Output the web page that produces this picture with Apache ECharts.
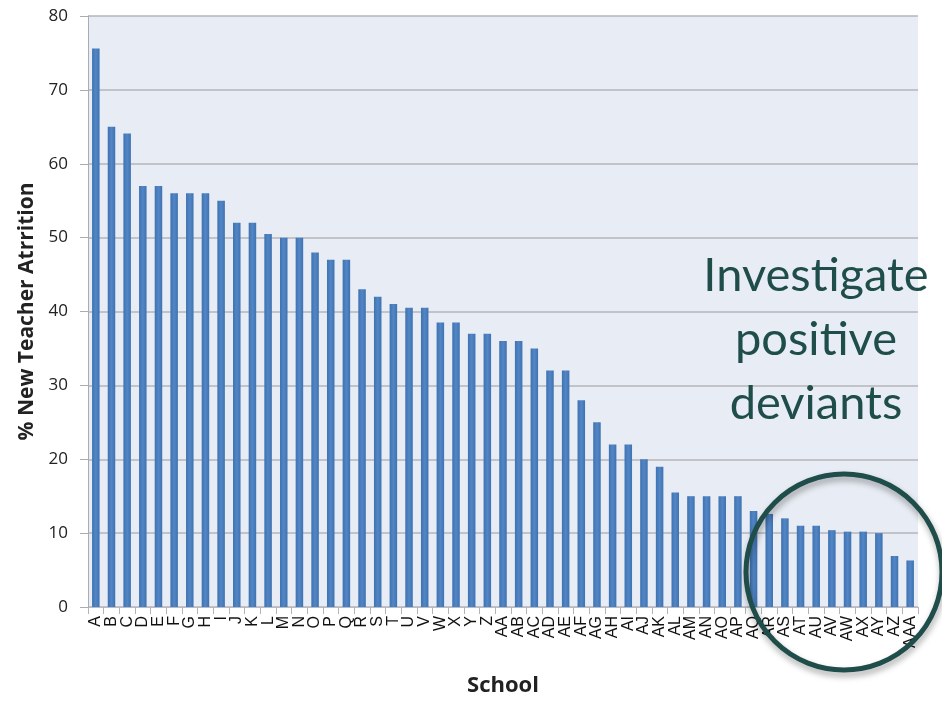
<!DOCTYPE html>
<html>
<head>
<meta charset="utf-8">
<script src="https://cdn.jsdelivr.net/npm/echarts@6/dist/echarts.min.js"></script>
<style>
  html, body { margin: 0; padding: 0; background: #fff; }
  #chart { width: 942px; height: 702px; }
</style>
</head>
<body>
<div id="chart"></div>
<script>
// schools A..Z, AA..AZ, AAA
const schools = ['A','B','C','D','E','F','G','H','I','J','K','L','M','N','O','P','Q','R','S','T','U','V','W','X','Y','Z',
  'AA','AB','AC','AD','AE','AF','AG','AH','AI','AJ','AK','AL','AM','AN','AO','AP','AQ','AR','AS','AT','AU','AV','AW','AX','AY','AZ','AAA']
const attrition = [75.6, 65, 64.1, 57, 57, 56, 56, 56, 55, 52, 52, 50.5, 50, 50, 48, 47, 47, 43, 42, 41, 40.5, 40.5, 38.5, 38.5, 37, 37,
  36, 36, 35, 32, 32, 28, 25, 22, 22, 20, 19, 15.5, 15, 15, 15, 15, 13, 12.6, 12, 11, 11, 10.4, 10.2, 10.2, 10, 6.9, 6.3]
const yTicks = [0, 10, 20, 30, 40, 50, 60, 70, 80]
const noteLines = ['Investigate', 'positive', 'deviants']

const teal = '#1f4d4a'
let chartDom = document.getElementById('chart')
let myChart = echarts.init(chartDom)

let option = {
  animation: false,
  grid: {
    left: 88,
    right: 24,
    top: 16,
    bottom: 92,
    show: true,
    backgroundColor: '#e8ecf4',
    borderWidth: 0
  },
  xAxis: {
    type: 'category',
    data: schools,
    name: 'School',
    nameLocation: 'middle',
    nameGap: 68,
    nameTextStyle: { fontFamily: 'Open Sans', fontWeight: 'bold', fontSize: 22, color: '#222' },
    axisLine: { lineStyle: { color: '#b8bcc4', width: 1 } },
    axisTick: { show: true, alignWithLabel: false, length: 7, lineStyle: { color: '#b0b4bc' } },
    axisLabel: {
      interval: 0,
      rotate: 90,
      margin: 9,
      fontFamily: 'Liberation Sans',
      fontSize: 16,
      color: '#111'
    }
  },
  yAxis: {
    type: 'value',
    min: yTicks[0],
    max: yTicks[yTicks.length - 1],
    interval: 10,
    name: '% New Teacher Atrrition',
    nameLocation: 'middle',
    nameGap: 50,
    nameTextStyle: { fontFamily: 'Open Sans', fontWeight: 'bold', fontSize: 21, color: '#222' },
    axisLine: { show: true, lineStyle: { color: '#a8acb4', width: 1 } },
    axisTick: { show: true, length: 8, lineStyle: { color: '#a8acb4' } },
    axisLabel: { margin: 20, fontFamily: 'Open Sans', fontSize: 17, color: '#222' },
    splitLine: { lineStyle: { color: '#b4b6ba', width: 1.5 } }
  },
  series: [
    {
      type: 'bar',
      data: attrition,
      barCategoryGap: '52%',
      itemStyle: {
        color: new echarts.graphic.LinearGradient(0, 0, 1, 0, [
          { offset: 0, color: '#3f72b0' },
          { offset: 0.5, color: '#5286c6' },
          { offset: 1, color: '#3f72b0' }
        ])
      }
    }
  ],
  graphic: [
    {
      type: 'text',
      z: 10,
      style: {
        text: noteLines.join('\n'),
        x: 816,
        y: 244,
        textAlign: 'center',
        font: '47px Lato',
        lineHeight: 64,
        fill: teal
      }
    },
    {
      type: 'circle',
      z: 10,
      shape: { cx: 844, cy: 572, r: 98 },
      style: {
        fill: 'none',
        stroke: teal,
        lineWidth: 5,
        shadowBlur: 6,
        shadowOffsetY: 4,
        shadowOffsetX: 1,
        shadowColor: 'rgba(0,0,0,0.35)'
      }
    }
  ]
}
myChart.setOption(option)
</script>
</body>
</html>
